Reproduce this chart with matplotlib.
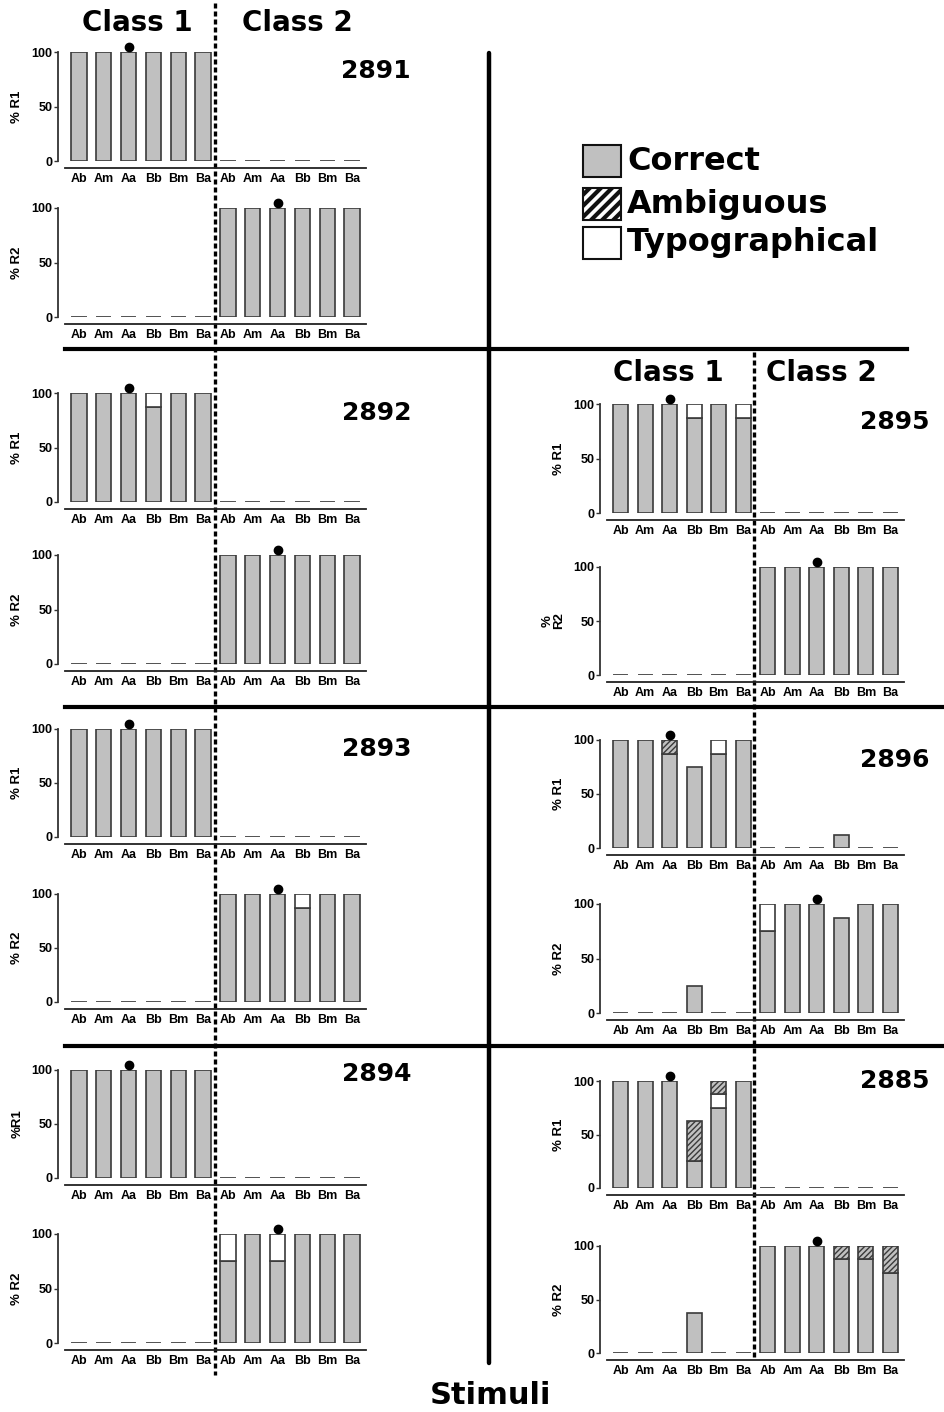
import numpy as np
import matplotlib
matplotlib.use('Agg')
import matplotlib.pyplot as plt
from matplotlib.patches import Rectangle

W, H = 945, 1412

stimuli = ['Ab', 'Am', 'Aa', 'Bb', 'Bm', 'Ba', 'Ab', 'Am', 'Aa', 'Bb', 'Bm', 'Ba']
zeros = [0, 0, 0, 0, 0, 0, 0, 0, 0, 0, 0, 0]

# percent of responses per stimulus (class 1 then class 2)
s2891_r1_correct = [100, 100, 100, 100, 100, 100, 0, 0, 0, 0, 0, 0]
s2891_r2_correct = [0, 0, 0, 0, 0, 0, 100, 100, 100, 100, 100, 100]

s2892_r1_correct = [100, 100, 100, 87.5, 100, 100, 0, 0, 0, 0, 0, 0]
s2892_r1_typo = [0, 0, 0, 12.5, 0, 0, 0, 0, 0, 0, 0, 0]
s2892_r2_correct = [0, 0, 0, 0, 0, 0, 100, 100, 100, 100, 100, 100]

s2893_r1_correct = [100, 100, 100, 100, 100, 100, 0, 0, 0, 0, 0, 0]
s2893_r2_correct = [0, 0, 0, 0, 0, 0, 100, 100, 100, 87.5, 100, 100]
s2893_r2_typo = [0, 0, 0, 0, 0, 0, 0, 0, 0, 12.5, 0, 0]

s2894_r1_correct = [100, 100, 100, 100, 100, 100, 0, 0, 0, 0, 0, 0]
s2894_r2_correct = [0, 0, 0, 0, 0, 0, 75, 100, 75, 100, 100, 100]
s2894_r2_typo = [0, 0, 0, 0, 0, 0, 25, 0, 25, 0, 0, 0]

s2895_r1_correct = [100, 100, 100, 87.5, 100, 87.5, 0, 0, 0, 0, 0, 0]
s2895_r1_typo = [0, 0, 0, 12.5, 0, 12.5, 0, 0, 0, 0, 0, 0]
s2895_r2_correct = [0, 0, 0, 0, 0, 0, 100, 100, 100, 100, 100, 100]

s2896_r1_correct = [100, 100, 87.5, 75, 87.5, 100, 0, 0, 0, 12.5, 0, 0]
s2896_r1_typo = [0, 0, 0, 0, 12.5, 0, 0, 0, 0, 0, 0, 0]
s2896_r1_ambig = [0, 0, 12.5, 0, 0, 0, 0, 0, 0, 0, 0, 0]
s2896_r2_correct = [0, 0, 0, 25, 0, 0, 75, 100, 100, 87.5, 100, 100]
s2896_r2_typo = [0, 0, 0, 0, 0, 0, 25, 0, 0, 0, 0, 0]

s2885_r1_correct = [100, 100, 100, 25, 75, 100, 0, 0, 0, 0, 0, 0]
s2885_r1_typo = [0, 0, 0, 0, 12.5, 0, 0, 0, 0, 0, 0, 0]
s2885_r1_ambig = [0, 0, 0, 37.5, 12.5, 0, 0, 0, 0, 0, 0, 0]
s2885_r2_correct = [0, 0, 0, 37.5, 0, 0, 100, 100, 100, 87.5, 87.5, 75]
s2885_r2_ambig = [0, 0, 0, 0, 0, 0, 0, 0, 0, 12.5, 12.5, 25]

GREY = '#c0c0c0'
EDGE = '#3a3a3a'
TICKFONT = 'Liberation Sans'
BIGFONT = 'DejaVu Sans'

plt.rcParams['hatch.linewidth'] = 1.0


def rect(x0, x1, ytop, ybot):
    return [x0 / W, 1 - ybot / H, (x1 - x0) / W, (ybot - ytop) / H]


def draw_panel(fig, box, ylabel, correct, typo, ambig, dot):
    ax = fig.add_axes(box)
    ax.patch.set_alpha(0)
    x = np.arange(12)
    correct = np.array(correct, dtype=float)
    typo = np.array(typo, dtype=float)
    ambig = np.array(ambig, dtype=float)
    w = 0.62
    ax.bar(x, correct, width=w, color=GREY, edgecolor=EDGE, lw=1.2, zorder=2)
    # zero bars show up as a short dash on the baseline
    z = (correct + typo + ambig) == 0
    ax.bar(x[z], np.zeros(z.sum()), width=w * 0.85, color=GREY, edgecolor='#555555',
           lw=1.4, zorder=2)
    m = typo > 0
    ax.bar(x[m], typo[m], bottom=correct[m], width=w, color='white',
           edgecolor=EDGE, lw=1.2, zorder=2)
    m = ambig > 0
    ax.bar(x[m], ambig[m], bottom=(correct + typo)[m], width=w, color=GREY,
           edgecolor=EDGE, hatch='//////', lw=1.2, zorder=2)
    total = correct + typo + ambig
    ax.plot(x[dot], total[dot] + 5, 'o', color='black', ms=6, clip_on=False, zorder=3)

    ax.set_xlim(-0.56, 11.56)
    ax.set_ylim(0, 100)
    for s in ['top', 'right']:
        ax.spines[s].set_visible(False)
    ax.spines['left'].set_bounds(0, 100)
    ax.spines['left'].set_position(('outward', 5))
    ax.spines['left'].set_color('#333333')
    ax.spines['left'].set_linewidth(1.3)
    ax.spines['bottom'].set_position(('outward', 5))
    ax.spines['bottom'].set_color('#222222')
    ax.spines['bottom'].set_linewidth(1.3)
    ax.set_yticks([0, 50, 100])
    ax.set_xticks(x)
    ax.set_xticklabels(stimuli)
    ax.tick_params(axis='x', length=0, pad=3.5)
    ax.tick_params(axis='y', length=3, width=1, pad=1, color='#333333')
    for lab in ax.get_xticklabels() + ax.get_yticklabels():
        lab.set_fontfamily(TICKFONT)
        lab.set_fontweight('bold')
        lab.set_fontsize(9)
    ax.set_ylabel(ylabel, fontfamily=TICKFONT, fontweight='bold', fontsize=9.5,
                  labelpad=6, linespacing=0.9)
    return ax


fig = plt.figure(figsize=(W / 100, H / 100), dpi=100)

# full-figure layer for headers, separators and the legend (pixel coordinates)
over = fig.add_axes([0, 0, 1, 1], zorder=0)
over.set_xlim(0, W)
over.set_ylim(H, 0)
over.axis('off')

LX = (65, 366)
RX = (607, 904)
panels = [
    (LX, 52, 161, '% R1', s2891_r1_correct, zeros, zeros, 2),
    (LX, 208, 317, '% R2', s2891_r2_correct, zeros, zeros, 8),
    (LX, 393, 502, '% R1', s2892_r1_correct, s2892_r1_typo, zeros, 2),
    (LX, 555, 664, '% R2', s2892_r2_correct, zeros, zeros, 8),
    (LX, 729, 837, '% R1', s2893_r1_correct, zeros, zeros, 2),
    (LX, 894, 1002, '% R2', s2893_r2_correct, s2893_r2_typo, zeros, 8),
    (LX, 1070, 1178, '%R1', s2894_r1_correct, zeros, zeros, 2),
    (LX, 1234, 1343, '% R2', s2894_r2_correct, s2894_r2_typo, zeros, 8),
    (RX, 404, 513, '% R1', s2895_r1_correct, s2895_r1_typo, zeros, 2),
    (RX, 567, 675, '%\nR2', s2895_r2_correct, zeros, zeros, 8),
    (RX, 740, 848, '% R1', s2896_r1_correct, s2896_r1_typo, s2896_r1_ambig, 2),
    (RX, 904, 1013, '% R2', s2896_r2_correct, s2896_r2_typo, zeros, 8),
    (RX, 1081, 1188, '% R1', s2885_r1_correct, s2885_r1_typo, s2885_r1_ambig, 2),
    (RX, 1246, 1353, '% R2', s2885_r2_correct, zeros, s2885_r2_ambig, 8),
]
for xs, ytop, ybot, ylab, cor, typ, amb, dot in panels:
    draw_panel(fig, rect(xs[0], xs[1], ytop, ybot), ylab, cor, typ, amb, dot)

# separators between subjects
over.plot([489, 489], [53, 1363], color='black', lw=3.2, solid_capstyle='round')
over.plot([65, 907], [349, 349], color='black', lw=3.0)
over.plot([65, 945], [707, 707], color='black', lw=3.0)
over.plot([65, 945], [1046, 1046], color='black', lw=3.0)
over.plot([215, 215], [3, 1375], color='black', lw=2.4, linestyle=(0, (1.5, 0.9)))
over.plot([754, 754], [352, 1360], color='black', lw=2.4, linestyle=(0, (1.5, 0.9)))

big = dict(fontfamily=BIGFONT, fontweight='bold', color='black')
over.text(137, 23, 'Class 1', ha='center', va='center', fontsize=20, **big)
over.text(297, 23, 'Class 2', ha='center', va='center', fontsize=20, **big)
over.text(668, 373, 'Class 1', ha='center', va='center', fontsize=20, **big)
over.text(821, 373, 'Class 2', ha='center', va='center', fontsize=20, **big)

subjects = ['2891', '2892', '2893', '2894', '2895', '2896', '2885']
subject_pos = [(411, 71), (411, 413), (411, 749), (411, 1074),
               (929, 422), (929, 760), (929, 1081)]
for name, (tx, ty) in zip(subjects, subject_pos):
    over.text(tx, ty, name, ha='right', va='center', fontsize=18, **big)

over.text(490, 1395, 'Stimuli', ha='center', va='center', fontsize=22, **big)

# legend, with heavier stripes on the ambiguous swatch
plt.rcParams['hatch.linewidth'] = 3.0
legend_rows = [('Correct', GREY, None, 161), ('Ambiguous', 'white', '///', 204),
               ('Typographical', 'white', None, 243)]
for label, fc, hatch, cy in legend_rows:
    box = Rectangle((583, cy - 16), 38, 32, facecolor=fc, edgecolor='#111111',
                    lw=1.5, hatch=hatch)
    over.add_patch(box)
    over.text(627, cy, label, ha='left', va='center', fontsize=23, **big)

fig.savefig('out.png', dpi=100)
